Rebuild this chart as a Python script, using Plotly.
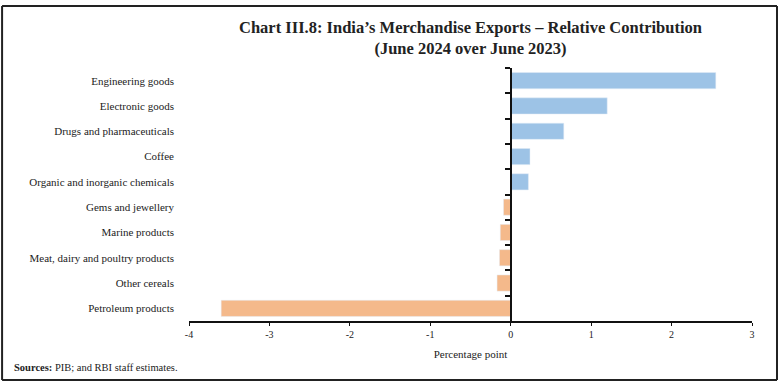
import plotly.graph_objects as go

categories = [
    "Engineering goods",
    "Electronic goods",
    "Drugs and pharmaceuticals",
    "Coffee",
    "Organic and inorganic chemicals",
    "Gems and jewellery",
    "Marine products",
    "Meat, dairy and poultry products",
    "Other cereals",
    "Petroleum products",
]
values = [2.55, 1.20, 0.66, 0.24, 0.22, -0.09, -0.13, -0.14, -0.17, -3.60]
x_tick_vals = [-4, -3, -2, -1, 0, 1, 2, 3]
x_tick_text = ["-4", "-3", "-2", "-1", "0", "1", "2", "3"]

BLUE = "#9DC3E6"
ORANGE = "#F4B98B"
colors = [BLUE if v >= 0 else ORANGE for v in values]
FONT = "Liberation Serif"

fig = go.Figure()
fig.add_trace(go.Bar(
    y=categories, x=values, orientation="h",
    marker=dict(color=colors, line=dict(width=0)),
    hoverinfo="x+y",
))
# invisible trace to carry the zero-line axis with boundary ticks
fig.add_trace(go.Bar(
    y=categories, x=values, orientation="h", yaxis="y2",
    marker=dict(color="rgba(0,0,0,0)"), hoverinfo="skip", showlegend=False,
))

fig.update_layout(
    width=779, height=385,
    margin=dict(l=189, r=27, t=68, b=64),
    paper_bgcolor="white", plot_bgcolor="white",
    showlegend=False,
    bargap=0.36,
    barmode="overlay",
    font=dict(family=FONT, size=11, color="#222"),
    title=dict(
        text="<b>Chart III.8: India’s Merchandise Exports – Relative Contribution<br>(June 2024 over June 2023)</b>",
        x=0.5, xref="paper", xanchor="center",
        y=0.915, yanchor="top",
        font=dict(family=FONT, size=16.5, color="#222"),
    ),
    xaxis=dict(
        range=[-4, 3], tickvals=x_tick_vals, ticktext=x_tick_text,
        showgrid=False, zeroline=False,
        showline=True, linecolor="#111", linewidth=2,
        ticks="outside", ticklen=3, tickwidth=1, tickcolor="#111",
        tickfont=dict(size=10),
        title=dict(text="Percentage point", standoff=11, font=dict(size=11)),
        fixedrange=True,
    ),
    yaxis=dict(
        autorange="reversed", type="category",
        showgrid=False, zeroline=False, showline=False,
        ticks="", ticklabelstandoff=14,
        tickfont=dict(size=11),
    ),
    yaxis2=dict(
        overlaying="y", matches="y", type="category",
        anchor="free", position=4 / 7, side="left",
        showgrid=False, zeroline=False,
        showline=True, linecolor="#111", linewidth=2,
        ticks="outside", tickson="boundaries", ticklen=5, tickwidth=2, tickcolor="#111",
        showticklabels=False,
    ),
)

# frame around the chart (four edges)
FX0, FX1, FY0, FY1 = -0.332, 1.0444, -0.233, 1.245
for (ax0, ay0, ax1, ay1) in [(FX0, FY1, FX1, FY1), (FX0, FY0, FX1, FY0),
                             (FX0, FY0, FX0, FY1), (FX1, FY0, FX1, FY1)]:
    fig.add_shape(type="line", xref="paper", yref="paper",
                  x0=ax0, y0=ay0, x1=ax1, y1=ay1,
                  line=dict(color="#222", width=2), layer="above")

fig.add_annotation(
    text="<b>Sources:</b> PIB; and RBI staff estimates.",
    xref="paper", yref="paper", x=-0.315, y=-0.185,
    xanchor="left", yanchor="middle", showarrow=False,
    font=dict(family=FONT, size=10.5, color="#222"),
)

fig.write_html(
    "out.html",
    config={"displayModeBar": False},
    post_script="document.body.style.margin='0';document.body.style.overflow='hidden';",
)
